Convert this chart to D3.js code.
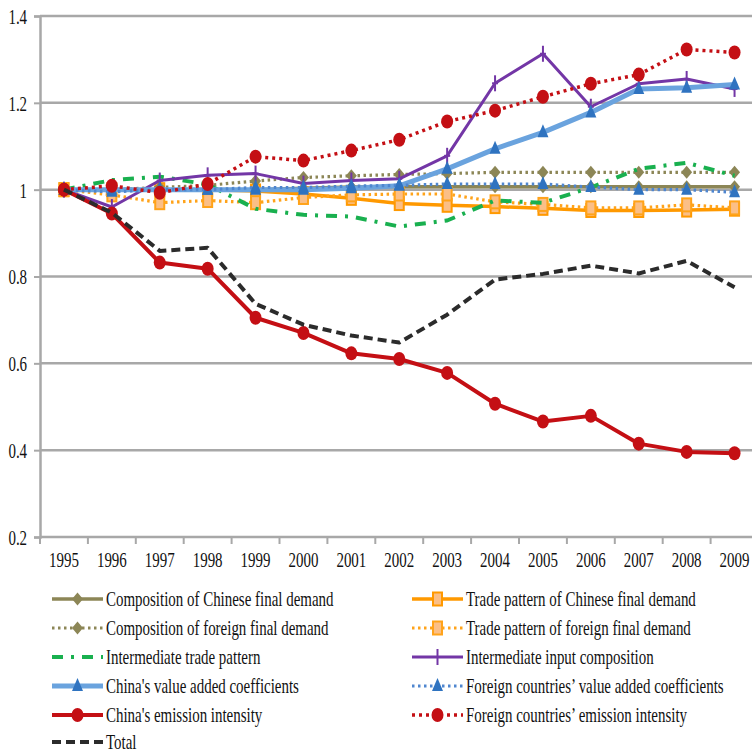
<!DOCTYPE html>
<html><head><meta charset="utf-8">
<script src="https://cdn.jsdelivr.net/npm/d3@7"></script>
<style>
html,body{margin:0;padding:0;background:#fff;}
svg{display:block;}
text{font-family:"Liberation Serif","Times New Roman",serif;fill:#111;}
</style></head>
<body><svg id="chart" width="752" height="753"></svg>
<script>
const years = [1995,1996,1997,1998,1999,2000,2001,2002,2003,2004,2005,2006,2007,2008,2009];
const yTicks = [0.2,0.4,0.6,0.8,1.0,1.2,1.4];
const yTickLabels = ["0.2","0.4","0.6","0.8","1","1.2","1.4"];

const compChineseFD = [1.0,1.0,1.0,1.0,1.0,1.003,1.006,1.007,1.007,1.007,1.007,1.007,1.007,1.007,1.007];
const tradeChineseFD = [1.0,1.0,1.0,1.0,0.997,0.99,0.98,0.968,0.964,0.961,0.957,0.952,0.952,0.953,0.955];
const compForeignFD = [1.0,1.0,1.005,1.01,1.02,1.028,1.032,1.035,1.037,1.04,1.04,1.04,1.04,1.04,1.04];
const tradeForeignFD = [1.0,0.988,0.97,0.975,0.97,0.982,0.988,0.99,0.99,0.972,0.966,0.958,0.958,0.965,0.958];
const intermTrade = [1.0,1.022,1.03,1.012,0.956,0.942,0.938,0.915,0.929,0.975,0.97,1.005,1.048,1.062,1.032];
const intermInput = [1.0,0.96,1.021,1.033,1.037,1.014,1.021,1.025,1.078,1.245,1.313,1.191,1.244,1.255,1.232];
const chinaVA = [1.0,1.0,1.0,1.0,1.0,1.0,1.003,1.009,1.048,1.094,1.132,1.178,1.232,1.235,1.242];
const foreignVA = [1.0,0.995,1.0,1.0,1.005,1.005,1.008,1.01,1.013,1.013,1.013,1.006,1.0,1.0,0.994];
const chinaEI = [1.0,0.945,0.832,0.818,0.705,0.67,0.623,0.61,0.578,0.507,0.466,0.479,0.415,0.396,0.393];
const foreignEI = [1.0,1.009,0.993,1.013,1.076,1.067,1.09,1.115,1.157,1.182,1.214,1.244,1.265,1.323,1.316];
const total = [1.0,0.947,0.859,0.866,0.737,0.689,0.664,0.648,0.712,0.793,0.806,0.825,0.807,0.836,0.775];

const seriesNames = [
  "Composition of Chinese final demand","Trade pattern of Chinese final demand",
  "Composition of foreign final demand","Trade pattern of foreign final demand",
  "Intermediate trade pattern","Intermediate input composition",
  "China's value added coefficients","Foreign countries’ value added coefficients",
  "China's emission intensity","Foreign countries’ emission intensity","Total"];
const seriesValues = [compChineseFD,tradeChineseFD,compForeignFD,tradeForeignFD,intermTrade,intermInput,chinaVA,foreignVA,chinaEI,foreignEI,total];
const styles = [
  {c:"#8c8656",w:3.5,dash:null,m:"diamond",mc:"#8c8656"},
  {c:"#ff9900",w:3.5,dash:null,m:"square",mc:"#fbbf86"},
  {c:"#8c8656",w:3.2,dash:"2.5,3.5",m:"diamond",mc:"#8c8656"},
  {c:"#ffa31a",w:3.2,dash:"2.5,3.5",m:"square",mc:"#fbbf86"},
  {c:"#19b04f",w:4,dash:"11,8,3,8",m:null},
  {c:"#7336a6",w:3,dash:null,m:"plus",mc:"#7336a6"},
  {c:"#6aa3de",w:5,dash:null,m:"triangle",mc:"#2f73c0"},
  {c:"#4f86cf",w:3.2,dash:"2.5,3.5",m:"triangle",mc:"#2f73c0"},
  {c:"#c40f14",w:4,dash:null,m:"circle",mc:"#c40f14"},
  {c:"#c40f14",w:3.5,dash:"3,4",m:"circle",mc:"#c40f14"},
  {c:"#2b2b2b",w:4,dash:"9,5",m:null}
];

const svg = d3.select("#chart");
const left = 40, bandW = 47.9;
const x = d3.scaleBand().domain(years).range([left, left + bandW*years.length]).paddingInner(0).paddingOuter(0);
const y = d3.scaleLinear().domain([0.2,1.4]).range([537,16]);
const cx = d => x(d) + x.bandwidth()/2;
const FS = 22, TS = 0.68;

// gridlines
svg.append("g").selectAll("line").data(yTicks).join("line")
  .attr("x1", left).attr("x2", 752)
  .attr("y1", d=>y(d)).attr("y2", d=>y(d))
  .attr("stroke", "#a8a8a8").attr("stroke-width", 2.5);

// axes
const yAxis = d3.axisLeft(y).tickValues(yTicks).tickSize(6).tickPadding(13)
  .tickFormat((d,i)=>yTickLabels[i]);
const gy = svg.append("g").attr("transform",`translate(${left},0)`).call(yAxis);
gy.select(".domain").attr("stroke","#a8a8a8").attr("stroke-width",2.5);
gy.selectAll(".tick line").attr("stroke","#a8a8a8").attr("stroke-width",2);
gy.selectAll(".tick text").attr("font-size",FS).attr("font-family","Liberation Serif")
  .attr("fill","#111").attr("transform",`scale(${TS},1)`).attr("dy","0.34em");

const xAxis = d3.axisBottom(x).tickSize(0).tickPadding(30);
const gx = svg.append("g").attr("transform",`translate(0,537)`).call(xAxis);
gx.select(".domain").remove();
gx.selectAll(".tick text").attr("font-size",FS).attr("font-family","Liberation Serif")
  .attr("fill","#111").attr("transform",`scale(${TS},1)`).attr("dy","0");
// category boundary ticks
const bounds = years.map(d=>x(d)).concat([x(years[years.length-1])+x.bandwidth()]);
svg.append("g").selectAll("line").data(bounds).join("line")
  .attr("x1",d=>d).attr("x2",d=>d).attr("y1",537).attr("y2",544)
  .attr("stroke","#a8a8a8").attr("stroke-width",2);

function drawMarker(g, type, px, py, col, stroke) {
  if (type==="diamond") {
    g.append("path").attr("d",`M${px},${py-6.5}L${px+5.5},${py}L${px},${py+6.5}L${px-5.5},${py}Z`).attr("fill",col);
  } else if (type==="square") {
    g.append("rect").attr("x",px-4.5).attr("y",py-6.5).attr("width",9).attr("height",13)
      .attr("fill",col).attr("stroke",stroke).attr("stroke-width",2);
  } else if (type==="triangle") {
    g.append("path").attr("d",`M${px},${py-8}L${px+5.5},${py+5}L${px-5.5},${py+5}Z`).attr("fill",col);
  } else if (type==="circle") {
    g.append("ellipse").attr("cx",px).attr("cy",py).attr("rx",6).attr("ry",7).attr("fill",col);
  } else if (type==="plus") {
    g.append("line").attr("x1",px).attr("x2",px).attr("y1",py-8).attr("y2",py+8).attr("stroke",col).attr("stroke-width",2);
    g.append("line").attr("x1",px-3).attr("x2",px+3).attr("y1",py).attr("y2",py).attr("stroke",col).attr("stroke-width",2);
  }
}

const line = d3.line().x((d,i)=>cx(years[i])).y(d=>y(d));
seriesValues.forEach((vals,k)=>{
  const s = styles[k];
  const g = svg.append("g");
  g.append("path").attr("d", line(vals)).attr("fill","none").attr("stroke",s.c)
    .attr("stroke-width",s.w).attr("stroke-dasharray",s.dash)
    .attr("stroke-linejoin","round");
  if (s.m) vals.forEach((v,i)=>drawMarker(g, s.m, cx(years[i]), y(v), s.mc, s.c));
});

// legend
const legendRows = [599,628,657,686,715,742];
const legCols = [52, 412];
seriesNames.forEach((name,k)=>{
  const s = styles[k];
  const col = k===10 ? 0 : k%2;
  const row = k===10 ? 5 : Math.floor(k/2);
  const lx = legCols[col], ly = legendRows[row];
  const g = svg.append("g");
  g.append("line").attr("x1",lx).attr("x2",lx+51).attr("y1",ly).attr("y2",ly)
    .attr("stroke",s.c).attr("stroke-width",s.w).attr("stroke-dasharray",s.dash);
  if (s.m) drawMarker(g, s.m, lx+25.5, ly, s.mc, s.c);
  g.append("text").attr("transform",`translate(${lx+54},${ly}) scale(${TS},1)`)
    .attr("dy","0.34em").attr("font-size",FS).text(name);
});
</script></body></html>
